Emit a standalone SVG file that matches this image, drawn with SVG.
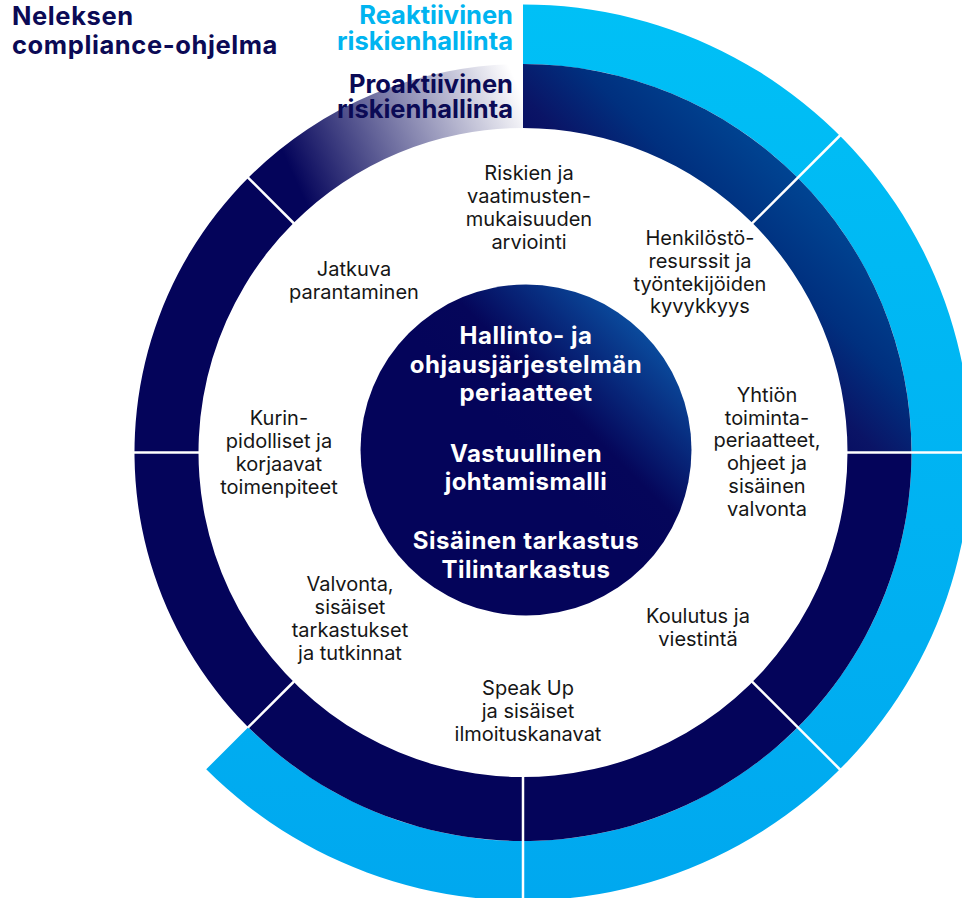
<svg xmlns="http://www.w3.org/2000/svg" width="962" height="898" viewBox="0 0 962 898">
  <defs>
    <linearGradient id="gOuter" gradientUnits="userSpaceOnUse" x1="0" y1="0" x2="0" y2="898">
      <stop offset="0" stop-color="#00c0f6"/>
      <stop offset="1" stop-color="#00a8ef"/>
    </linearGradient>
    <linearGradient id="gTopRight" gradientUnits="userSpaceOnUse" x1="840" y1="136" x2="523" y2="452.5">
      <stop offset="0" stop-color="#0050a2"/>
      <stop offset="0.16" stop-color="#00418f"/>
      <stop offset="0.3" stop-color="#00307f"/>
      <stop offset="0.44" stop-color="#0a1466"/>
      <stop offset="0.6" stop-color="#04045a"/>
      <stop offset="1" stop-color="#04045a"/>
    </linearGradient>
    <linearGradient id="gFade" gradientUnits="userSpaceOnUse" x1="300" y1="190" x2="520" y2="90">
      <stop offset="0" stop-color="#04045a" stop-opacity="1"/>
      <stop offset="1" stop-color="#04045a" stop-opacity="0"/>
    </linearGradient>
    <linearGradient id="gCore" gradientUnits="userSpaceOnUse" x1="643" y1="333" x2="526" y2="450">
      <stop offset="0" stop-color="#0a4a9c"/>
      <stop offset="0.65" stop-color="#05065a"/>
      <stop offset="1" stop-color="#04045a"/>
    </linearGradient>
  </defs>
  <style>
    .lbl { font-family: Inter, "Liberation Sans", Arial, sans-serif; font-size: 20px; fill: #161616; text-anchor: middle; }
    .core { font-family: Inter, "Liberation Sans", Arial, sans-serif; font-size: 24px; font-weight: 700; letter-spacing: 0.5px; fill: #ffffff; text-anchor: middle; }
    .title { font-family: Inter, "Liberation Sans", Arial, sans-serif; font-size: 25.5px; font-weight: 700; }
    .wide { letter-spacing: 0.6px; }
    .navy { fill: #0b0a55; }
    .cyan { fill: #00b4f0; }
    .sep { stroke: #ffffff; stroke-width: 2.5; fill: none; }
    .dark { fill: #04045a; }
  </style>

  <g id="rings">
    <path id="outer-ring" fill="url(#gOuter)" d="M 523 4.5 A 448 448 0 1 1 206.22 769.28 L 248.29 727.21 A 388.5 388.5 0 1 0 523 64 Z"/>
    <path id="ring-top-right" fill="url(#gTopRight)" d="M 523 64 A 388.5 388.5 0 0 1 911.5 452.5 L 847.5 452.5 A 324.5 324.5 0 0 0 523 128 Z"/>
    <path id="ring-bottom-left" class="dark" d="M 911.5 452.5 A 388.5 388.5 0 1 1 248.29 177.79 L 293.54 223.04 A 324.5 324.5 0 1 0 847.5 452.5 Z"/>
    <path id="ring-fade" fill="url(#gFade)" d="M 248.29 177.79 A 388.5 388.5 0 0 1 523 64 L 523 128 A 324.5 324.5 0 0 0 293.54 223.04 Z"/>
  </g>

  <g id="separators">
    <line class="sep" x1="751.8" y1="223.7" x2="840.5" y2="135"/>
    <line class="sep" x1="847" y1="452.5" x2="962" y2="452.5"/>
    <line class="sep" x1="751.8" y1="681.3" x2="840.5" y2="770"/>
    <line class="sep" x1="523" y1="776.5" x2="523" y2="898"/>
    <line class="sep" x1="294" y1="681.5" x2="247.8" y2="727.7"/>
    <line class="sep" x1="199" y1="452.5" x2="134" y2="452.5"/>
    <line class="sep" x1="294" y1="223.5" x2="247.8" y2="177.3"/>
  </g>

  <g id="core">
    <circle cx="526" cy="450" r="165.5" fill="url(#gCore)"/>
    <text class="core"><tspan x="526" y="344">Hallinto- ja</tspan><tspan x="526" y="373">ohjausjärjestelmän</tspan><tspan x="526" y="401">periaatteet</tspan></text>
    <text class="core"><tspan x="526" y="462">Vastuullinen</tspan><tspan x="526" y="490">johtamismalli</tspan></text>
    <text class="core"><tspan x="526" y="549">Sisäinen tarkastus</tspan><tspan x="526" y="578">Tilintarkastus</tspan></text>
  </g>

  <g id="title-program">
    <text class="title wide navy"><tspan x="12" y="25">Neleksen</tspan><tspan x="12" y="54">compliance-ohjelma</tspan></text>
  </g>
  <g id="title-reactive">
    <text class="title cyan" text-anchor="end"><tspan x="513" y="24">Reaktiivinen</tspan><tspan x="513" y="50">riskienhallinta</tspan></text>
  </g>
  <g id="title-proactive">
    <text class="title navy" text-anchor="end"><tspan x="513" y="93">Proaktiivinen</tspan><tspan x="513" y="118">riskienhallinta</tspan></text>
  </g>

  <g id="node-riskien">
    <text class="lbl"><tspan x="529" y="180">Riskien ja</tspan><tspan x="529" y="203">vaatimusten-</tspan><tspan x="529" y="226">mukaisuuden</tspan><tspan x="529" y="249">arviointi</tspan></text>
  </g>
  <g id="node-henkilosto">
    <text class="lbl"><tspan x="700" y="245">Henkilöstö-</tspan><tspan x="700" y="268">resurssit ja</tspan><tspan x="700" y="291">työntekijöiden</tspan><tspan x="700" y="313">kyvykkyys</tspan></text>
  </g>
  <g id="node-yhtion">
    <text class="lbl"><tspan x="767" y="402">Yhtiön</tspan><tspan x="767" y="424.5">toiminta-</tspan><tspan x="767" y="447">periaatteet,</tspan><tspan x="767" y="470">ohjeet ja</tspan><tspan x="767" y="493">sisäinen</tspan><tspan x="767" y="516">valvonta</tspan></text>
  </g>
  <g id="node-koulutus">
    <text class="lbl"><tspan x="698" y="623">Koulutus ja</tspan><tspan x="698" y="646">viestintä</tspan></text>
  </g>
  <g id="node-speakup">
    <text class="lbl"><tspan x="528" y="695">Speak Up</tspan><tspan x="528" y="718">ja sisäiset</tspan><tspan x="528" y="741">ilmoituskanavat</tspan></text>
  </g>
  <g id="node-valvonta">
    <text class="lbl"><tspan x="350" y="591">Valvonta,</tspan><tspan x="350" y="614">sisäiset</tspan><tspan x="350" y="637">tarkastukset</tspan><tspan x="350" y="660">ja tutkinnat</tspan></text>
  </g>
  <g id="node-kurin">
    <text class="lbl"><tspan x="279" y="425">Kurin-</tspan><tspan x="279" y="448">pidolliset ja</tspan><tspan x="279" y="471">korjaavat</tspan><tspan x="279" y="494">toimenpiteet</tspan></text>
  </g>
  <g id="node-jatkuva">
    <text class="lbl"><tspan x="354" y="276">Jatkuva</tspan><tspan x="354" y="299">parantaminen</tspan></text>
  </g>
</svg>
